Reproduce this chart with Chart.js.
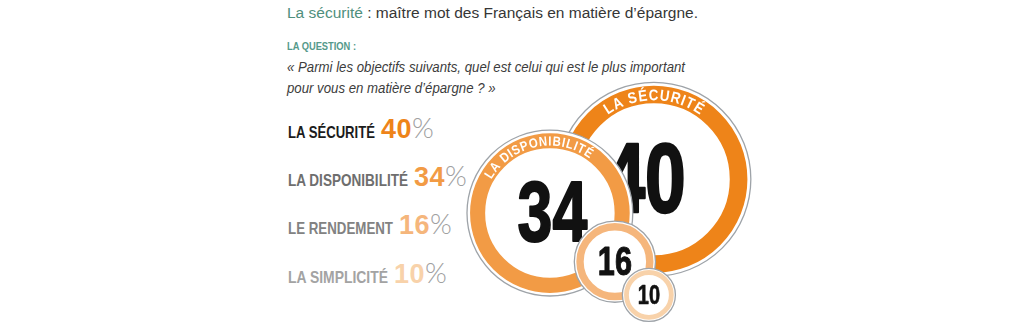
<!DOCTYPE html>
<html>
<head>
<meta charset="utf-8">
<script src="https://cdn.jsdelivr.net/npm/chart.js@4.4.1/dist/chart.umd.min.js"></script>
<style>
html, body { margin: 0; padding: 0; background: #fff; }
#page { position: relative; width: 1024px; height: 334px; overflow: hidden; font-family: "Liberation Sans", Arial, sans-serif; }
.fit { display: inline-block; transform-origin: 0 0; white-space: nowrap; }
#title { position: absolute; left: 287px; top: 5px; font-size: 15.5px; line-height: 15.5px; color: #363636; }
#title b { font-weight: normal; color: #4f8f7d; }
#qlabel { position: absolute; left: 287px; top: 40px; font-size: 11.6px; line-height: 11.6px; font-weight: bold; color: #55998a; }
#question { position: absolute; left: 287px; top: 56px; font-size: 15px; line-height: 21px; font-style: italic; color: #3c3c3c; }
.row { position: absolute; left: 288px; display: flex; align-items: baseline; white-space: nowrap; }
.row .lbl { display: inline-block; font-size: 16.5px; line-height: 16.5px; font-weight: bold; }
.row .num { font-size: 27px; line-height: 27px; font-weight: bold; margin-left: 6px; letter-spacing: 0.5px; }
.row .pct { font-family: Lato, Roboto, sans-serif; font-size: 28px; line-height: 28px; font-weight: 300; color: #a0a0a0; }
#bubbles { position: absolute; left: 440px; top: 70px; }
</style>
</head>
<body>
<div id="page">
  <div id="title" class="fit"><b>La sécurité</b> : maître mot des Français en matière d’épargne.</div>
  <div id="qlabel" class="fit">LA QUESTION :</div>
  <div id="question" class="fit"><span id="qline">« Parmi les objectifs suivants, quel est celui qui est le plus important</span><br>pour vous en matière d’épargne ? »</div>
  <div id="legend"></div>
  <canvas id="bubbles" width="330" height="264"></canvas>
</div>
<script>
// data
var categories = ['LA SÉCURITÉ', 'LA DISPONIBILITÉ', 'LE RENDEMENT', 'LA SIMPLICITÉ'];
var shares = [40, 34, 16, 10];
var ringTitles = ['LA SÉCURITÉ', 'LA DISPONIBILITÉ', '', ''];

// styles
var ringColors = ['#ee8419', '#f29b45', '#f5b67c', '#f8d2aa'];
var labelColors = ['#1c1c1c', '#6e6e6e', '#828282', '#a3a3a3'];

// layout: bubble spots in the bubble box (0-100), legend baselines and text widths
var spotX = [64.8, 33.3, 53.0, 63.3];
var spotY = [41.4, 54.2, 72.6, 85.2];
var numShift = [-0.09, 0.03, 0, 0];
var arcCenter = [-90, -102, -90, -90];
var rowBaselines = [138, 185.5, 234, 282.5];
var labelWidths = [87, 120, 105, 100];

function squeeze(el, target, ref) {
  var w = (ref || el).getBoundingClientRect().width;
  el.style.transform = 'scaleX(' + (target / w) + ')';
}
squeeze(document.getElementById('title'), 411);
squeeze(document.getElementById('qlabel'), 69);
squeeze(document.getElementById('question'), 398, document.getElementById('qline'));

// legend rows on the left
var legend = document.getElementById('legend');
categories.forEach(function (c, i) {
  var row = document.createElement('div');
  row.className = 'row';
  row.innerHTML = '<span class="lbl" style="width:' + labelWidths[i] + 'px;color:' + labelColors[i] + '"><span class="fit">' + c + '</span></span>' +
    '<span class="num" style="color:' + ringColors[i] + '">' + shares[i] + '</span>' +
    '<span class="pct">%</span>';
  legend.appendChild(row);
  squeeze(row.querySelector('.lbl .fit'), labelWidths[i]);
  row.style.top = (rowBaselines[i] - 24.8) + 'px';
});

function outerR(v) { return 2.35 * v + 3; }
function ringW(v) { return 0.182 * outerR(v); }
function gapW(v) { return 1 + 0.025 * outerR(v); }
function midR(v) { return outerR(v) - gapW(v) - ringW(v) / 2; }

var sans = '"Liberation Sans", Arial, sans-serif';

function arcText(ctx, txt, cx, cy, r, centerDeg, size) {
  var sx = 0.86;
  ctx.save();
  ctx.font = 'bold ' + size + 'px ' + sans;
  ctx.fillStyle = '#fff';
  ctx.textAlign = 'center';
  ctx.textBaseline = 'alphabetic';
  var sp = size * 0.06;
  var chars = txt.split('');
  var widths = chars.map(function (ch) { return ctx.measureText(ch).width * sx + sp; });
  var total = widths.reduce(function (a, b) { return a + b; }, 0) - sp;
  var rr = r - size * 0.36;
  var a = centerDeg * Math.PI / 180 - total / 2 / rr;
  var acc = 0;
  chars.forEach(function (ch, k) {
    var ang = a + (acc + (widths[k] - sp) / 2) / rr;
    ctx.save();
    ctx.translate(cx + rr * Math.cos(ang), cy + rr * Math.sin(ang));
    ctx.rotate(ang + Math.PI / 2);
    ctx.scale(sx, 1);
    ctx.fillText(ch, 0, 0);
    ctx.restore();
    acc += widths[k];
  });
  ctx.restore();
}

var ringPlugin = {
  id: 'rings',
  beforeDatasetDraw: function (chart, args) {
    var ctx = chart.ctx;
    args.meta.data.forEach(function (pt, i) {
      var v = shares[i];
      var R = outerR(v);
      ctx.save();
      ctx.beginPath();
      ctx.arc(pt.x, pt.y, R, 0, Math.PI * 2);
      ctx.fillStyle = '#fff';
      ctx.fill();
      ctx.lineWidth = 1.3;
      ctx.strokeStyle = '#9ea3a8';
      ctx.stroke();
      ctx.restore();
      pt.draw(ctx, chart.chartArea);
      // big number
      var F = 1.02 * R;
      ctx.save();
      ctx.font = 'bold ' + F + 'px ' + sans;
      ctx.fillStyle = '#111';
      ctx.textAlign = 'center';
      ctx.textBaseline = 'alphabetic';
      ctx.translate(pt.x + numShift[i] * R, pt.y + 0.358 * F - 0.03 * R);
      ctx.scale(0.74, 1);
      ctx.lineWidth = F * 0.025;
      ctx.strokeStyle = '#111';
      ctx.lineJoin = 'round';
      ctx.strokeText(String(v), 0, 0);
      ctx.fillText(String(v), 0, 0);
      ctx.restore();
      if (ringTitles[i]) {
        arcText(ctx, ringTitles[i], pt.x, pt.y, midR(v), arcCenter[i], ringW(v) * 0.88);
      }
    });
    return false;
  }
};

new Chart(document.getElementById('bubbles'), {
  type: 'bubble',
  data: {
    datasets: [{
      data: shares.map(function (v, i) { return { x: spotX[i], y: spotY[i], r: midR(v) }; }),
      backgroundColor: '#fff',
      borderColor: ringColors,
      borderWidth: shares.map(ringW)
    }]
  },
  options: {
    responsive: false,
    animation: false,
    events: [],
    layout: { padding: 0, autoPadding: false },
    plugins: { legend: { display: false }, tooltip: { enabled: false } },
    scales: {
      x: { display: false, min: 0, max: 100 },
      y: { display: false, min: 0, max: 100, reverse: true }
    }
  },
  plugins: [ringPlugin]
});
</script>
</body>
</html>
